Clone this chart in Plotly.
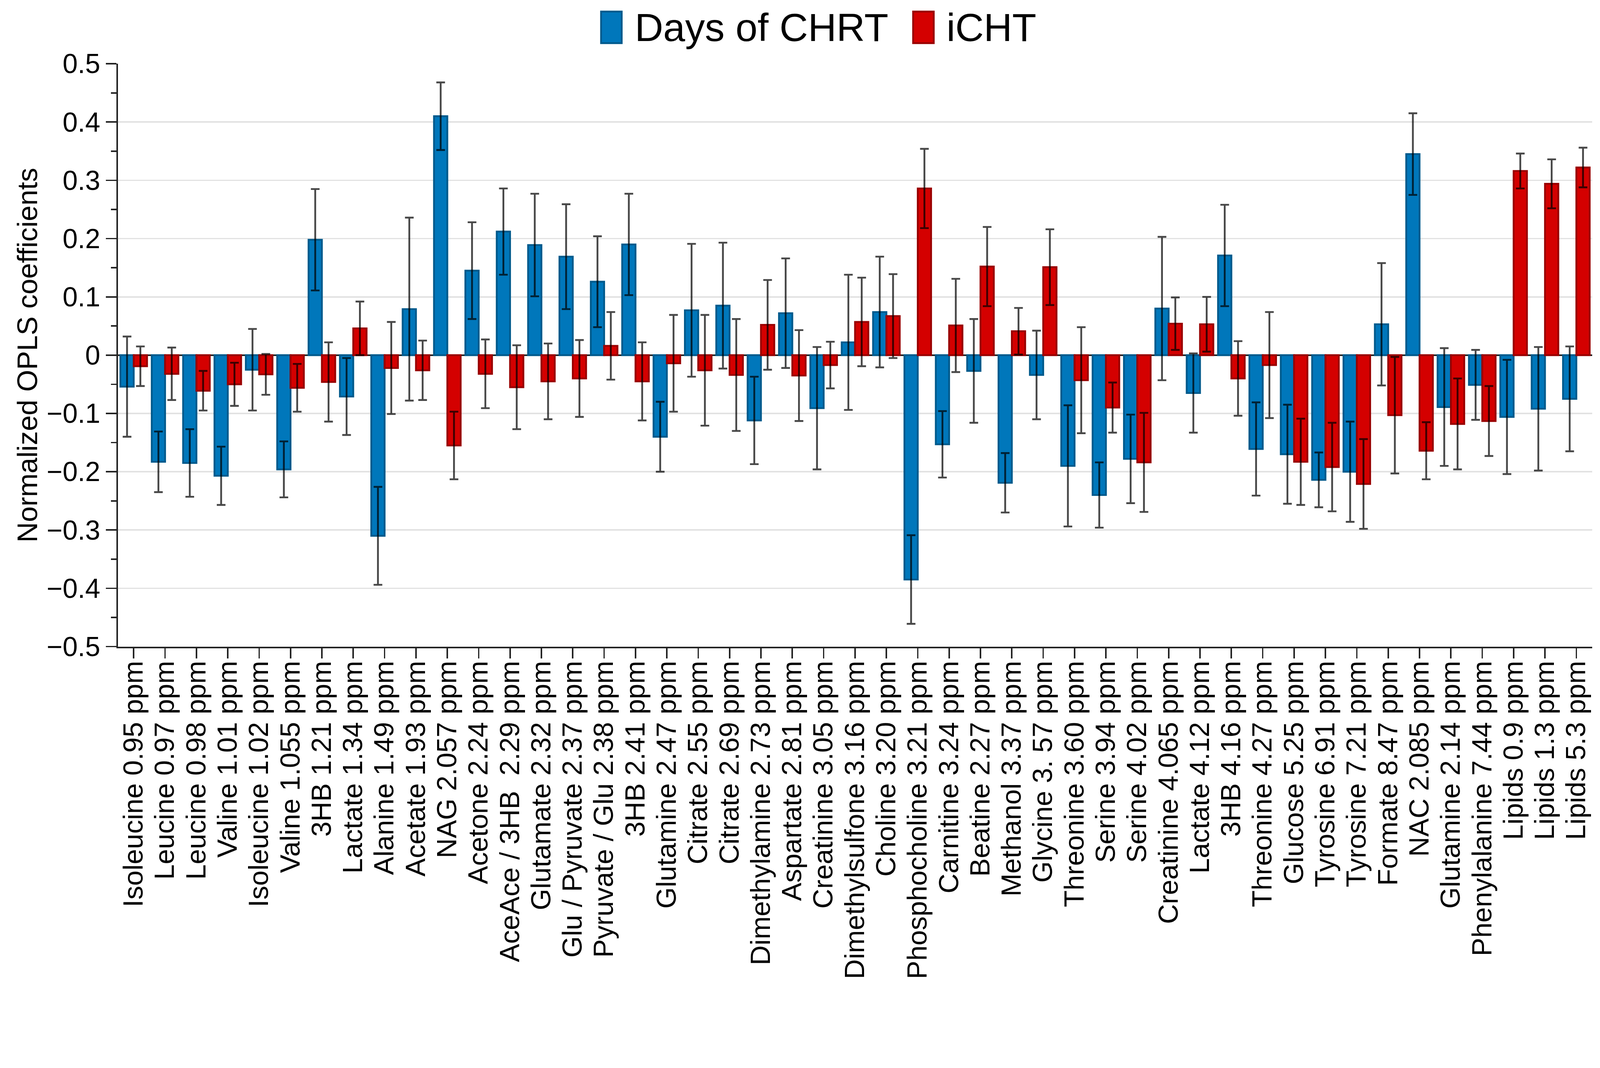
import plotly.graph_objects as go

categories = [
    "Isoleucine 0.95 ppm", "Leucine 0.97 ppm", "Leucine 0.98 ppm", "Valine 1.01 ppm",
    "Isoleucine 1.02 ppm", "Valine 1.055 ppm", "3HB 1.21 ppm", "Lactate 1.34 ppm",
    "Alanine 1.49 ppm", "Acetate 1.93 ppm", "NAG 2.057 ppm", "Acetone 2.24 ppm",
    "AceAce / 3HB\u00a0 2.29 ppm", "Glutamate 2.32 ppm", "Glu / Pyruvate 2.37 ppm",
    "Pyruvate / Glu 2.38 ppm", "3HB 2.41 ppm", "Glutamine 2.47 ppm", "Citrate 2.55 ppm",
    "Citrate 2.69 ppm", "Dimethylamine 2.73 ppm", "Aspartate 2.81 ppm", "Creatinine 3.05 ppm",
    "Dimethylsulfone 3.16 ppm", "Choline 3.20 ppm", "Phosphocholine 3.21 ppm",
    "Carnitine 3.24 ppm", "Beatine 2.27 ppm", "Methanol 3.37 ppm", "Glycine 3. 57 ppm",
    "Threonine 3.60 ppm", "Serine 3.94 ppm", "Serine 4.02 ppm", "Creatinine 4.065 ppm",
    "Lactate 4.12 ppm", "3HB 4.16 ppm", "Threonine 4.27 ppm", "Glucose 5.25 ppm",
    "Tyrosine 6.91 ppm", "Tyrosine 7.21 ppm", "Formate 8.47 ppm", "NAC 2.085 ppm",
    "Glutamine 2.14 ppm", "Phenylalanine 7.44 ppm", "Lipids 0.9 ppm", "Lipids 1.3 ppm",
    "Lipids 5.3 ppm",
]

chrt_values = [
    -0.054, -0.183, -0.185, -0.207, -0.025, -0.196, 0.198, -0.071, -0.310, 0.079,
    0.410, 0.145, 0.212, 0.189, 0.169, 0.126, 0.190, -0.140, 0.077, 0.085,
    -0.112, 0.072, -0.091, 0.022, 0.074, -0.385, -0.153, -0.027, -0.219, -0.034,
    -0.190, -0.240, -0.178, 0.080, -0.065, 0.171, -0.161, -0.170, -0.214, -0.200,
    0.053, 0.345, -0.089, -0.051, -0.106, -0.092, -0.075,
]
chrt_errors = [
    0.086, 0.052, 0.058, 0.050, 0.070, 0.048, 0.087, 0.066, 0.084, 0.157,
    0.058, 0.083, 0.074, 0.088, 0.090, 0.078, 0.087, 0.060, 0.114, 0.108,
    0.075, 0.094, 0.105, 0.116, 0.095, 0.076, 0.057, 0.089, 0.051, 0.076,
    0.104, 0.056, 0.076, 0.123, 0.068, 0.087, 0.080, 0.085, 0.047, 0.086,
    0.105, 0.070, 0.101, 0.060, 0.098, 0.106, 0.090,
]

icht_values = [
    -0.019, -0.032, -0.061, -0.050, -0.033, -0.056, -0.046, 0.046, -0.022, -0.026,
    -0.155, -0.032, -0.055, -0.045, -0.040, 0.016, -0.045, -0.014, -0.026, -0.034,
    0.052, -0.035, -0.017, 0.057, 0.067, 0.286, 0.051, 0.152, 0.041, 0.151,
    -0.043, -0.090, -0.184, 0.054, 0.053, -0.040, -0.017, -0.183, -0.192, -0.221,
    -0.103, -0.164, -0.118, -0.113, 0.316, 0.294, 0.322,
]
icht_errors = [
    0.034, 0.045, 0.034, 0.037, 0.035, 0.041, 0.068, 0.046, 0.079, 0.051,
    0.058, 0.059, 0.072, 0.065, 0.066, 0.058, 0.067, 0.083, 0.095, 0.096,
    0.077, 0.078, 0.040, 0.076, 0.072, 0.068, 0.080, 0.068, 0.040, 0.065,
    0.091, 0.043, 0.085, 0.045, 0.047, 0.064, 0.091, 0.074, 0.076, 0.077,
    0.100, 0.049, 0.078, 0.060, 0.030, 0.042, 0.034,
]

series_names = ["Days of CHRT", "iCHT"]

W, H = 4419, 2733
BLUE = "#0077BB"
BLUE_EDGE = "#005A8C"
RED = "#D40000"
RED_EDGE = "#990000"
ERR = "rgba(0,0,0,0.72)"
FONT = "Arial, 'Liberation Sans', sans-serif"

fig = go.Figure()
fig.add_trace(go.Bar(
    x=categories, y=chrt_values, name=series_names[0],
    marker=dict(color=BLUE, line=dict(color=BLUE_EDGE, width=5)),
    error_y=dict(type="data", array=chrt_errors, visible=True,
                 color=ERR, thickness=5, width=12),
    showlegend=False,
))
fig.add_trace(go.Bar(
    x=categories, y=icht_values, name=series_names[1],
    marker=dict(color=RED, line=dict(color=RED_EDGE, width=5)),
    error_y=dict(type="data", array=icht_errors, visible=True,
                 color=ERR, thickness=5, width=12),
    showlegend=False,
))

# Custom legend (large swatches like the reference)
legend_items = [
    (series_names[0], BLUE, BLUE_EDGE, 0.3277, 0.3417, 0.3500),
    (series_names[1], RED, RED_EDGE, 0.5394, 0.5534, 0.5615),
]
for name, fill, edge, x0, x1, xt in legend_items:
    fig.add_shape(type="rect", xref="paper", yref="paper",
                  x0=x0, x1=x1, y0=1.0354, y1=1.0895,
                  fillcolor=fill, line=dict(color=edge, width=5))
    fig.add_annotation(xref="paper", yref="paper", x=xt, y=1.0625,
                       text=name, showarrow=False, xanchor="left", yanchor="middle",
                       font=dict(size=109, color="black", family=FONT))

fig.update_layout(
    width=W, height=H,
    margin=dict(l=326, r=22, t=176, b=948, autoexpand=False),
    paper_bgcolor="white", plot_bgcolor="white",
    barmode="group", bargap=0.15, bargroupgap=0.0,
    font=dict(family=FONT, size=76, color="black"),
)
fig.update_xaxes(
    type="category", range=[-0.5, len(categories) - 0.5],
    tickmode="array", tickvals=categories, ticktext=categories,
    showline=True, linecolor="#222222", linewidth=5,
    ticks="outside", ticklen=28, tickwidth=4, tickcolor="#222222",
    tickangle=-90, tickfont=dict(size=76, color="black"),
    ticklabelstandoff=-24,
    showgrid=False, automargin=False,
)
fig.update_yaxes(
    range=[-0.5, 0.5], dtick=0.1, tick0=0,
    showline=True, linecolor="#222222", linewidth=5,
    ticks="outside", ticklen=29, tickwidth=4, tickcolor="#222222",
    tickfont=dict(size=75, color="black"),
    showgrid=True, gridcolor="#E2E2E2", gridwidth=4,
    zeroline=True, zerolinecolor="#222222", zerolinewidth=5,
    minor=dict(ticks="outside", ticklen=15, tickwidth=4, tickcolor="#222222",
               dtick=0.05, showgrid=False),
    title=dict(text="Normalized OPLS coefficients", font=dict(size=78, color="black"),
               standoff=2),
    automargin=False,
)

# Fit the fixed-size figure exactly into whatever viewport the browser has.
post_script = """
(function(){
  var gd = document.getElementById('{plot_id}');
  function fit(){
    var s = Math.min(window.innerWidth / %d, window.innerHeight / %d);
    document.documentElement.style.margin = '0';
    document.documentElement.style.overflow = 'hidden';
    document.body.style.margin = '0';
    document.body.style.padding = '0';
    document.body.style.overflow = 'hidden';
    gd.style.transformOrigin = '0 0';
    gd.style.transform = 'scale(' + s + ')';
  }
  fit();
  window.addEventListener('resize', fit);
})();
""" % (W, H)

fig.write_html("out.html", post_script=post_script,
               config={"displayModeBar": False, "responsive": False})
